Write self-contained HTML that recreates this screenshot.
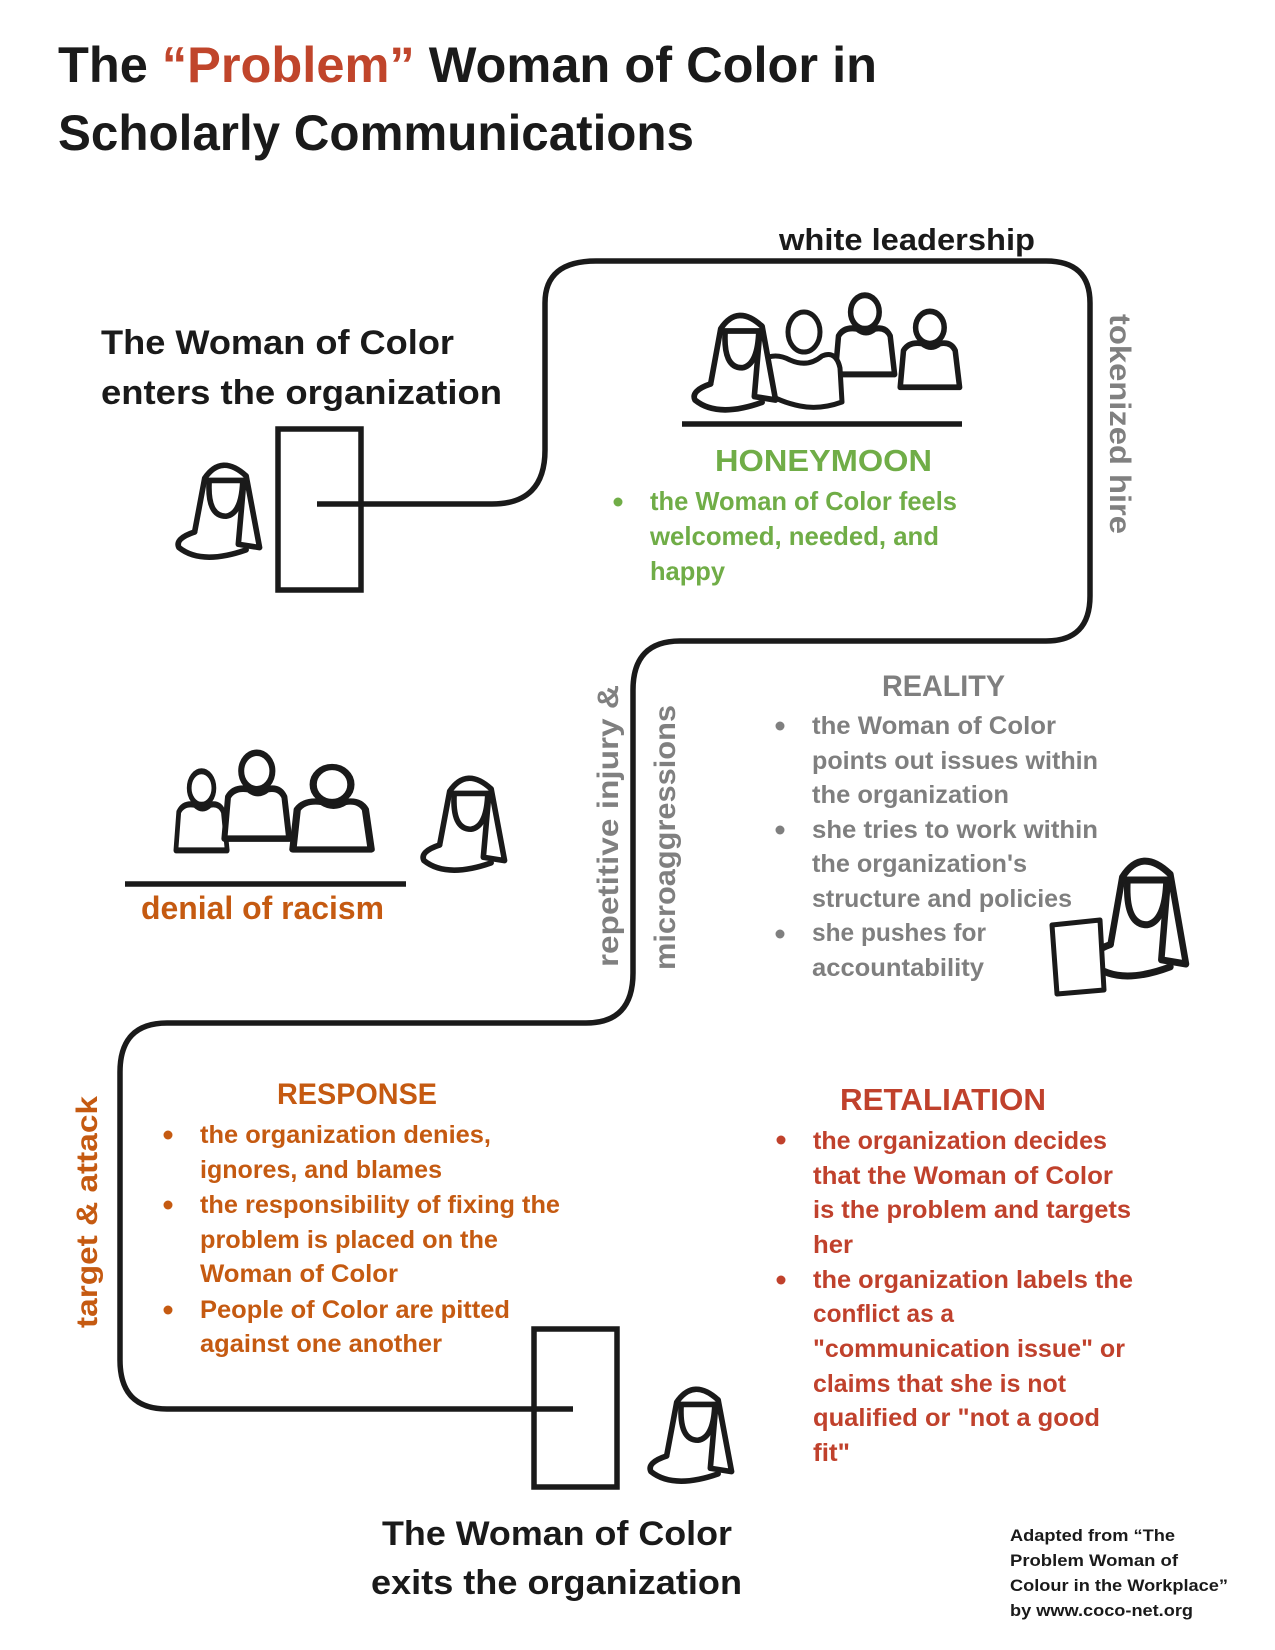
<!DOCTYPE html>
<html><head><meta charset="utf-8"><style>
html,body{margin:0;padding:0;background:#fff}
svg{display:block}
text{font-family:"Liberation Sans",sans-serif;font-weight:bold}
</style></head><body>
<svg width="1275" height="1650" viewBox="0 0 1275 1650" xmlns="http://www.w3.org/2000/svg">
<defs>
<g id="woman" fill="none" stroke="#1a1a1a" stroke-width="5" stroke-linejoin="round" stroke-linecap="round">
<path d="M22,66 L31,18 Q46,-4 68,16 L80,80 L61,77 L66,20" fill="#fff"/>
<path d="M33,20 L67,20 M35,20 Q33,52 50,52 Q64,50 65,20"/>
<path d="M22,66 Q4,72 8,80 Q28,96 68,82"/>
</g>
<g id="person" fill="none" stroke="#1a1a1a" stroke-width="5" stroke-linejoin="round">
<path d="M2,62 L5,30 Q10,22 22,24 Q30,30 38,24 Q48,22 52,30 L56,62 Z" fill="#fff"/>
<ellipse cx="29" cy="10" rx="13" ry="14" fill="#fff"/>
</g>
</defs>

<text x="58" y="82" font-size="50" fill="#1a1a1a" textLength="819" lengthAdjust="spacingAndGlyphs">The <tspan fill="#c0452b">“Problem”</tspan> Woman of Color in</text>
<text x="58" y="150" font-size="50" fill="#1a1a1a" textLength="636" lengthAdjust="spacingAndGlyphs">Scholarly Communications</text>

<path d="M317,504 L492,504 Q545,504 545,450 L545,303 Q545,261 596,261 L1046,261 Q1090,261 1090,303 L1090,596 Q1090,641 1046,641 L680,641 Q633,641 633,690 L633,973 Q633,1023 586,1023 L167,1023 Q120,1023 120,1072 L120,1360 Q120,1409 167,1409 L573,1409" fill="none" stroke="#1a1a1a" stroke-width="5.5"/>

<rect x="278" y="429" width="83" height="161" fill="none" stroke="#1a1a1a" stroke-width="5.5"/>
<rect x="534" y="1329" width="83" height="158" fill="none" stroke="#1a1a1a" stroke-width="5.5"/>

<text x="779" y="250" font-size="31" fill="#1a1a1a" textLength="256" lengthAdjust="spacingAndGlyphs">white leadership</text>

<text x="101" y="354" font-size="34" fill="#1a1a1a" textLength="353" lengthAdjust="spacingAndGlyphs">The Woman of Color</text>
<text x="101" y="404" font-size="34" fill="#1a1a1a" textLength="401" lengthAdjust="spacingAndGlyphs">enters the organization</text>

<use href="#woman" transform="translate(170,458) scale(1.12)"/>

<use href="#person" transform="translate(898,316) scale(1.1,1.15)"/>
<use href="#person" transform="translate(833,300) scale(1.1,1.2)"/>
<g fill="none" stroke="#1a1a1a" stroke-width="5" stroke-linejoin="round">
<path d="M762,360 Q775,352 790,360 Q808,368 822,356 Q836,350 840,368 L842,402 Q820,410 800,406 Q780,402 765,392 Z" fill="#fff"/>
<ellipse cx="804" cy="332" rx="16" ry="20" fill="#fff"/>
</g>
<use href="#woman" transform="translate(686,308) scale(1.12,1.15)"/>
<line x1="682" y1="424" x2="962" y2="424" stroke="#1a1a1a" stroke-width="5.5"/>

<text x="715" y="471" font-size="31" fill="#70ad47" textLength="217" lengthAdjust="spacingAndGlyphs">HONEYMOON</text>
<circle cx="618" cy="502" r="4.5" fill="#70ad47"/>
<g font-size="26" fill="#70ad47">
<text x="650" y="510" textLength="307" lengthAdjust="spacingAndGlyphs">the Woman of Color feels</text>
<text x="650" y="545" textLength="289" lengthAdjust="spacingAndGlyphs">welcomed, needed, and</text>
<text x="650" y="580" textLength="75" lengthAdjust="spacingAndGlyphs">happy</text>
</g>

<text transform="translate(1110,314) rotate(90)" font-size="30" fill="#808080" textLength="220" lengthAdjust="spacingAndGlyphs">tokenized hire</text>

<text x="882" y="696" font-size="30" fill="#7f7f7f" textLength="123" lengthAdjust="spacingAndGlyphs">REALITY</text>
<g fill="#7f7f7f">
<circle cx="780" cy="726" r="4.5"/><circle cx="780" cy="830" r="4.5"/><circle cx="780" cy="934" r="4.5"/>
</g>
<g font-size="25" fill="#7f7f7f">
<text x="812" y="734" textLength="244" lengthAdjust="spacingAndGlyphs">the Woman of Color</text>
<text x="812" y="769" textLength="286" lengthAdjust="spacingAndGlyphs">points out issues within</text>
<text x="812" y="803" textLength="197" lengthAdjust="spacingAndGlyphs">the organization</text>
<text x="812" y="838" textLength="286" lengthAdjust="spacingAndGlyphs">she tries to work within</text>
<text x="812" y="872" textLength="215" lengthAdjust="spacingAndGlyphs">the organization's</text>
<text x="812" y="907" textLength="260" lengthAdjust="spacingAndGlyphs">structure and policies</text>
<text x="812" y="941" textLength="174" lengthAdjust="spacingAndGlyphs">she pushes for</text>
<text x="812" y="976" textLength="172" lengthAdjust="spacingAndGlyphs">accountability</text>
</g>
<use href="#woman" transform="translate(1082,852) scale(1.3,1.4)"/>
<path d="M1052,925 L1100,920 L1104,990 L1057,994 Z" fill="#fff" stroke="#1a1a1a" stroke-width="5" stroke-linejoin="round"/>

<use href="#person" transform="translate(174,776) scale(0.95,1.2)"/>
<use href="#person" transform="translate(290,772) scale(1.45,1.25)"/>
<use href="#person" transform="translate(222,758) scale(1.2,1.3)"/>
<line x1="125" y1="884" x2="406" y2="884" stroke="#1a1a1a" stroke-width="5.5"/>
<use href="#woman" transform="translate(415,771) scale(1.12)"/>
<text x="141" y="919" font-size="32" fill="#c55a11" textLength="243" lengthAdjust="spacingAndGlyphs">denial of racism</text>

<text transform="translate(618,967) rotate(-90)" font-size="30" fill="#808080" textLength="282" lengthAdjust="spacingAndGlyphs">repetitive injury &amp;</text>
<text transform="translate(675,970) rotate(-90)" font-size="30" fill="#808080" textLength="265" lengthAdjust="spacingAndGlyphs">microaggressions</text>

<text x="277" y="1104" font-size="30" fill="#c55a11" textLength="160" lengthAdjust="spacingAndGlyphs">RESPONSE</text>
<g fill="#c55a11"><circle cx="168" cy="1135" r="4.5"/><circle cx="168" cy="1205" r="4.5"/><circle cx="168" cy="1310" r="4.5"/></g>
<g font-size="25" fill="#c55a11">
<text x="200" y="1143" textLength="291" lengthAdjust="spacingAndGlyphs">the organization denies,</text>
<text x="200" y="1178" textLength="242" lengthAdjust="spacingAndGlyphs">ignores, and blames</text>
<text x="200" y="1213" textLength="360" lengthAdjust="spacingAndGlyphs">the responsibility of fixing the</text>
<text x="200" y="1248" textLength="298" lengthAdjust="spacingAndGlyphs">problem is placed on the</text>
<text x="200" y="1282" textLength="198" lengthAdjust="spacingAndGlyphs">Woman of Color</text>
<text x="200" y="1318" textLength="310" lengthAdjust="spacingAndGlyphs">People of Color are pitted</text>
<text x="200" y="1352" textLength="242" lengthAdjust="spacingAndGlyphs">against one another</text>
</g>
<text transform="translate(97,1328) rotate(-90)" font-size="30" fill="#c55a11" textLength="232" lengthAdjust="spacingAndGlyphs">target &amp; attack</text>

<text x="840" y="1110" font-size="31" fill="#c0412c" textLength="206" lengthAdjust="spacingAndGlyphs">RETALIATION</text>
<g fill="#c0412c"><circle cx="781" cy="1140" r="4.5"/><circle cx="781" cy="1280" r="4.5"/></g>
<g font-size="25" fill="#c0412c">
<text x="813" y="1149" textLength="294" lengthAdjust="spacingAndGlyphs">the organization decides</text>
<text x="813" y="1184" textLength="300" lengthAdjust="spacingAndGlyphs">that the Woman of Color</text>
<text x="813" y="1218" textLength="318" lengthAdjust="spacingAndGlyphs">is the problem and targets</text>
<text x="813" y="1253" textLength="40" lengthAdjust="spacingAndGlyphs">her</text>
<text x="813" y="1288" textLength="320" lengthAdjust="spacingAndGlyphs">the organization labels the</text>
<text x="813" y="1322" textLength="141" lengthAdjust="spacingAndGlyphs">conflict as a</text>
<text x="813" y="1357" textLength="312" lengthAdjust="spacingAndGlyphs">"communication issue" or</text>
<text x="813" y="1392" textLength="253" lengthAdjust="spacingAndGlyphs">claims that she is not</text>
<text x="813" y="1426" textLength="287" lengthAdjust="spacingAndGlyphs">qualified or "not a good</text>
<text x="813" y="1461" textLength="37" lengthAdjust="spacingAndGlyphs">fit"</text>
</g>

<use href="#woman" transform="translate(642,1382) scale(1.12)"/>

<text x="382" y="1545" font-size="34" fill="#1a1a1a" textLength="350" lengthAdjust="spacingAndGlyphs">The Woman of Color</text>
<text x="371" y="1594" font-size="34" fill="#1a1a1a" textLength="371" lengthAdjust="spacingAndGlyphs">exits the organization</text>

<g font-size="17" fill="#1a1a1a">
<text x="1010" y="1541" textLength="165" lengthAdjust="spacingAndGlyphs">Adapted from “The</text>
<text x="1010" y="1566" textLength="168" lengthAdjust="spacingAndGlyphs">Problem Woman of</text>
<text x="1010" y="1591" textLength="218" lengthAdjust="spacingAndGlyphs">Colour in the Workplace”</text>
<text x="1010" y="1616" textLength="183" lengthAdjust="spacingAndGlyphs">by www.coco-net.org</text>
</g>
</svg>
</body></html>
